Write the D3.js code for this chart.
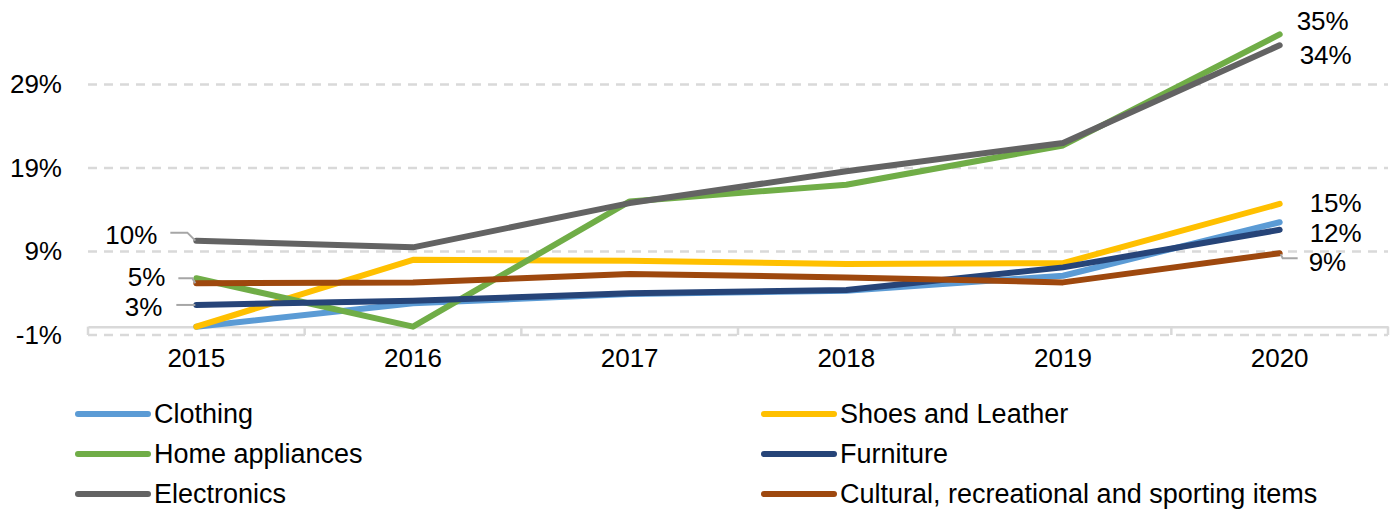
<!DOCTYPE html>
<html>
<head>
<meta charset="utf-8">
<script src="https://cdn.jsdelivr.net/npm/d3@7"></script>
<style>
  body { margin: 0; background: #fff; }
  svg { display: block; font-family: "Liberation Sans", Arial, sans-serif; }
</style>
</head>
<body>
<svg id="chart"></svg>
<script>
// DATA (percent)
const years = ["2015", "2016", "2017", "2018", "2019", "2020"]
const clothing    = [0,    2.8, 3.9,  4.3,  6.1,  12.5]
const shoes       = [0,    8.0, 7.9,  7.5,  7.6,  14.7]
const home        = [5.8,  0,   15.0, 17.0, 21.7, 35.0]
const furniture   = [2.6,  3.1, 4.0,  4.4,  7.1,  11.6]
const electronics = [10.3, 9.5, 14.8, 18.6, 22.0, 33.7]
const cultural    = [5.2,  5.3, 6.3,  5.9,  5.3,  8.8]

const seriesNames = ["Clothing", "Shoes and Leather", "Home appliances", "Furniture", "Electronics", "Cultural, recreational and sporting items"]
const seriesValues = [clothing, shoes, home, furniture, electronics, cultural]
const seriesColors = ["#5B9BD5", "#FFC000", "#70AD47", "#264478", "#636363", "#9E480E"]

const yTicks = [-1, 9, 19, 29]

// data labels: series index, year index, text
const dataLabels = [
  {s: 4, i: 0, text: "10%"},
  {s: 5, i: 0, text: "5%"},
  {s: 3, i: 0, text: "3%"},
  {s: 2, i: 5, text: "35%"},
  {s: 4, i: 5, text: "34%"},
  {s: 1, i: 5, text: "15%"},
  {s: 3, i: 5, text: "12%"},
  {s: 5, i: 5, text: "9%"}
]

// label placement (offset of text from point, leader line points relative to point)
const labelLayout = [
  {dx: -39, dy: -6, anchor: "end", leader: [[-26, -8], [-9, -8], [-1, 0]]},
  {dx: -31, dy: -6, anchor: "end", leader: [[-18, -5], [-4, -5], [-1, 0]]},
  {dx: -34, dy: 2, anchor: "end", leader: [[-20, 0], [-1, 0]]},
  {dx: 17, dy: -13, anchor: "start", leader: null},
  {dx: 20, dy: 10, anchor: "start", leader: null},
  {dx: 30, dy: -1, anchor: "start", leader: null},
  {dx: 30, dy: 3, anchor: "start", leader: null},
  {dx: 29, dy: 9, anchor: "start", leader: [[1, 1], [3, 5], [18, 5]]}
]

const width = 1397
const height = 511

const svg = d3.select("#chart").attr("width", width).attr("height", height)

const x = d3.scaleBand()
  .domain(years)
  .range([88, 1388])

const y = d3.scaleLinear()
  .domain([-1, 29])
  .range([335, 84.5])

const px = (i) => x(years[i]) + x.bandwidth() / 2

// gridlines
svg.append("g")
  .selectAll("line")
  .data(yTicks)
  .join("line")
    .attr("x1", 88)
    .attr("x2", 1388)
    .attr("y1", d => y(d))
    .attr("y2", d => y(d))
    .attr("stroke", "#D9D9D9")
    .attr("stroke-width", 2.5)
    .attr("stroke-dasharray", "9,7")

// y axis labels
svg.append("g")
  .attr("class", "y-axis")
  .attr("transform", "translate(86,0)")
  .call(d3.axisLeft(y).tickValues(yTicks).tickSize(0).tickPadding(24).tickFormat(d => d + "%"))
  .call(g => g.select(".domain").remove())
  .call(g => g.selectAll("text").attr("font-size", 26).attr("fill", "#000").attr("font-family", null))

// x axis line at 0 with tick marks down to the bottom
svg.append("g")
  .attr("class", "x-axis")
  .attr("transform", "translate(0," + y(0) + ")")
  .call(d3.axisBottom(x).tickSize(0).tickPadding(0).tickFormat(""))
  .call(g => g.select(".domain").attr("stroke", "#D9D9D9").attr("stroke-width", 2.5))

svg.append("g")
  .selectAll("line")
  .data(years.concat(["end"]))
  .join("line")
    .attr("x1", (d, i) => i < years.length ? x(d) : x.range()[1])
    .attr("x2", (d, i) => i < years.length ? x(d) : x.range()[1])
    .attr("y1", y(0))
    .attr("y2", y(-1))
    .attr("stroke", "#D9D9D9")
    .attr("stroke-width", 2.5)

// year labels
svg.append("g")
  .selectAll("text")
  .data(years)
  .join("text")
    .attr("x", (d, i) => px(i))
    .attr("y", 358)
    .attr("text-anchor", "middle")
    .attr("dominant-baseline", "central")
    .attr("font-size", 26)
    .text(d => d)

// lines
const line = d3.line()
  .x((d, i) => px(i))
  .y(d => y(d))

svg.append("g")
  .selectAll("path")
  .data(seriesValues)
  .join("path")
    .attr("d", d => line(d))
    .attr("fill", "none")
    .attr("stroke", (d, i) => seriesColors[i])
    .attr("stroke-width", 6)
    .attr("stroke-linecap", "round")
    .attr("stroke-linejoin", "round")

// data labels
const lbl = svg.append("g")
dataLabels.forEach((l, k) => {
  const lay = labelLayout[k]
  const cx = px(l.i)
  const cy = y(seriesValues[l.s][l.i])
  if (lay.leader) {
    lbl.append("polyline")
      .attr("points", lay.leader.map(p => (cx + p[0]) + "," + (cy + p[1])).join(" "))
      .attr("fill", "none")
      .attr("stroke", "#A6A6A6")
      .attr("stroke-width", 2)
  }
  lbl.append("text")
    .attr("x", cx + lay.dx)
    .attr("y", cy + lay.dy)
    .attr("text-anchor", lay.anchor)
    .attr("dominant-baseline", "central")
    .attr("font-size", 26)
    .text(l.text)
})

// legend
const legend = svg.append("g")
  .selectAll("g")
  .data(seriesNames)
  .join("g")
    .attr("transform", (d, i) => "translate(" + (i % 2 === 0 ? 78 : 764) + "," + (414 + Math.floor(i / 2) * 40) + ")")

legend.append("line")
  .attr("x1", 0)
  .attr("x2", 70)
  .attr("stroke", (d, i) => seriesColors[i])
  .attr("stroke-width", 6)
  .attr("stroke-linecap", "round")

legend.append("text")
  .attr("x", 76)
  .attr("dominant-baseline", "central")
  .attr("font-size", 27)
  .text(d => d)
</script>
</body>
</html>
